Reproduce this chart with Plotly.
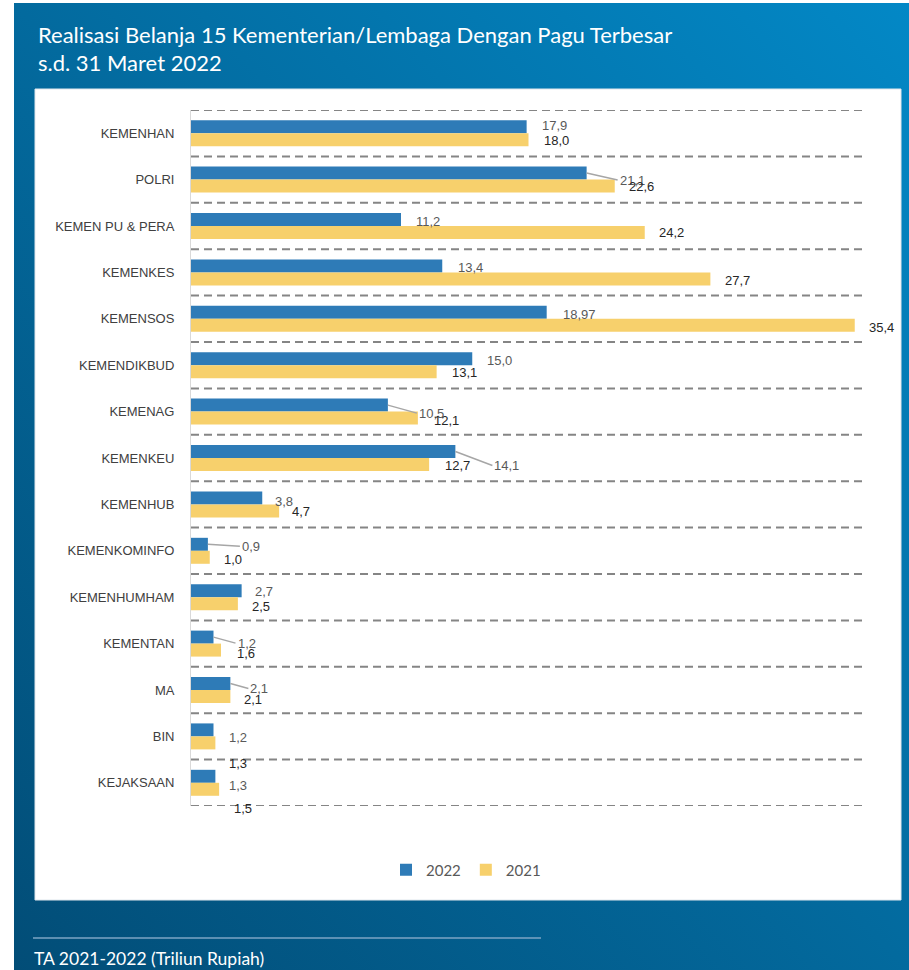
import base64
import plotly.graph_objects as go

# ---------------- data ----------------
categories = ["KEMENHAN", "POLRI", "KEMEN PU & PERA", "KEMENKES", "KEMENSOS",
              "KEMENDIKBUD", "KEMENAG", "KEMENKEU", "KEMENHUB", "KEMENKOMINFO",
              "KEMENHUMHAM", "KEMENTAN", "MA", "BIN", "KEJAKSAAN"]
values_2022 = [17.9, 21.1, 11.2, 13.4, 18.97, 15.0, 10.5, 14.1, 3.8, 0.9, 2.7, 1.2, 2.1, 1.2, 1.3]
values_2021 = [18.0, 22.6, 24.2, 27.7, 35.4, 13.1, 12.1, 12.7, 4.7, 1.0, 2.5, 1.6, 2.1, 1.3, 1.5]
series_names = ["2022", "2021"]

title_line1 = "Realisasi Belanja 15 Kementerian/Lembaga Dengan Pagu Terbesar"
title_line2 = "s.d. 31 Maret 2022"
footer_text = "TA 2021-2022 (Triliun Rupiah)"

# ---------------- styling / layout ----------------
W, H = 909, 970
BLUE = "#2e7bb7"
YELLOW = "#f7d06c"
BARGAP = 0.44

# label pixel offsets (dx right of bar end, dy down from bar centre) and leader-line flags
shift_2022 = [(13, -1), (31, 7), (13, 2), (14, 2), (14, 2), (13, 2), (29, 8), (37, 14),
              (11, 4), (32, 2), (11, 1), (22, 6), (18, 5), (13, 8), (12, 9)]
leader_2022 = [False, True, False, False, False, False, True, True,
               False, True, False, True, True, False, False]
shift_2021 = [(13, 1), (12, 0), (12, 0), (13, 2), (12, 2), (13, 1), (14, 2), (14, 1),
              (11, 1), (12, 2), (12, 3), (14, 3), (12, 3), (12, 21), (13, 19)]


def px_x(p):
    return p / W


def px_y(p):
    return 1 - p / H


def fmt(v):
    s = f"{v:.1f}" if abs(v * 10 - round(v * 10)) < 1e-9 else f"{v:.2f}"
    return s.replace(".", ",")


idx = list(range(len(categories)))

fig = go.Figure()
fig.add_trace(go.Bar(y=idx, x=values_2022, orientation="h", name=series_names[0],
                     marker=dict(color=BLUE, line=dict(width=0))))
fig.add_trace(go.Bar(y=idx, x=values_2021, orientation="h", name=series_names[1],
                     marker=dict(color=YELLOW, line=dict(width=0))))

half = (1 - BARGAP) / 4  # centre offset of each bar within the group

annotations = []
for i in idx:
    # 2022 labels
    v = values_2022[i]
    dx, dy = shift_2022[i]
    if leader_2022[i]:
        annotations.append(dict(x=v, y=i - half, xref="x", yref="y", text=fmt(v),
                                showarrow=True, arrowhead=0, arrowwidth=1.5,
                                arrowcolor="#a6a6a6", ax=dx, ay=dy, xanchor="left",
                                yanchor="middle", standoff=0,
                                font=dict(family="Liberation Sans", size=13, color="#595959")))
    else:
        annotations.append(dict(x=v, y=i - half, xref="x", yref="y", text=fmt(v),
                                showarrow=False, xshift=dx, yshift=-dy, xanchor="left",
                                yanchor="middle",
                                font=dict(family="Liberation Sans", size=13, color="#595959")))
    # 2021 labels
    v = values_2021[i]
    dx, dy = shift_2021[i]
    annotations.append(dict(x=v, y=i + half, xref="x", yref="y", text=fmt(v),
                            showarrow=False, xshift=dx, yshift=-dy, xanchor="left",
                            yanchor="middle",
                            font=dict(family="Liberation Sans", size=13, color="#262626")))

# title / footer
annotations += [
    dict(x=px_x(36), y=px_y(35), xref="paper", yref="paper", text=title_line1,
         showarrow=False, xanchor="left", yanchor="middle",
         font=dict(family="Lato", size=22, color="white")),
    dict(x=px_x(36), y=px_y(63), xref="paper", yref="paper", text=title_line2,
         showarrow=False, xanchor="left", yanchor="middle",
         font=dict(family="Lato", size=22, color="white")),
    dict(x=px_x(32), y=px_y(958), xref="paper", yref="paper", text=footer_text,
         showarrow=False, xanchor="left", yanchor="middle",
         font=dict(family="Lato", size=17.5, color="white")),
]

shapes = [
    # white chart panel
    dict(type="rect", xref="paper", yref="paper", x0=px_x(35), x1=px_x(901),
         y0=px_y(900), y1=px_y(89), fillcolor="white", line=dict(width=1, color="#dfe6ec"),
         layer="below"),
    # footer line
    dict(type="line", xref="paper", yref="paper", x0=px_x(33), x1=px_x(541),
         y0=px_y(938), y1=px_y(938), line=dict(color="#7da5c4", width=1.5)),
]
# dashed category-boundary gridlines
for b in range(len(categories) + 1):
    shapes.append(dict(type="line", xref="x domain", yref="y", x0=0, x1=1,
                       y0=b - 0.5, y1=b - 0.5, layer="below",
                       line=dict(color="#858585", width=2, dash="8px,5px")))

# diagonal gradient background (as an svg image)
svg = ("<svg xmlns='http://www.w3.org/2000/svg' width='895' height='967' viewBox='0 0 895 967' "
       "preserveAspectRatio='none'><defs><linearGradient id='g' x1='0' y1='1' x2='1' y2='0'>"
       "<stop offset='0' stop-color='#024d77'/><stop offset='0.5' stop-color='#036a9e'/>"
       "<stop offset='1' stop-color='#0388c6'/></linearGradient></defs>"
       "<rect width='895' height='967' fill='url(#g)'/></svg>")
src = "data:image/svg+xml;base64," + base64.b64encode(svg.encode()).decode()

fig.update_layout(
    width=W, height=H,
    margin=dict(l=0, r=0, t=0, b=0),
    paper_bgcolor="white",
    plot_bgcolor="rgba(0,0,0,0)",
    barmode="group",
    bargap=BARGAP,
    bargroupgap=0,
    showlegend=True,
    legend=dict(orientation="h", x=px_x(466), xanchor="center", y=px_y(870),
                yanchor="middle", font=dict(family="Lato", size=15, color="#595959"),
                bgcolor="rgba(0,0,0,0)", itemwidth=30, traceorder="normal"),
    xaxis=dict(domain=[px_x(191), px_x(866)], range=[0, 36], showgrid=False,
               zeroline=False, showticklabels=False, showline=False, fixedrange=True),
    yaxis=dict(domain=[px_y(806), px_y(110)], range=[len(categories) - 0.5, -0.5],
               tickmode="array", tickvals=idx, ticktext=categories, showgrid=False,
               zeroline=False, showline=True, linecolor="#d9d9d9", linewidth=1,
               ticks="", ticklabelstandoff=13,
               tickfont=dict(family="Liberation Sans", size=13, color="#404040")),
    annotations=annotations,
    shapes=shapes,
    images=[dict(source=src, xref="paper", yref="paper", x=px_x(14), y=px_y(3),
                 sizex=895 / W, sizey=967 / H, sizing="stretch", xanchor="left",
                 yanchor="top", layer="below")],
)

fig.write_html("out.html")
